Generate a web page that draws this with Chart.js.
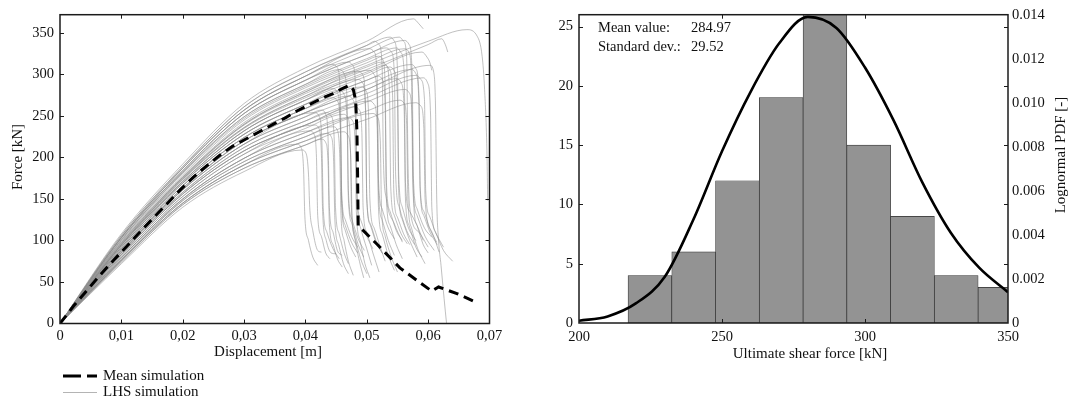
<!DOCTYPE html>
<html>
<head>
<meta charset="utf-8">
<title>LHS simulation results</title>
<script src="https://cdn.jsdelivr.net/npm/chart.js@4.4.1/dist/chart.umd.min.js"></script>
<style>
  html, body { margin: 0; padding: 0; background: #fff; }
  #wrap { position: relative; width: 1069px; height: 401px; overflow: hidden; }
  .panel { position: absolute; top: 0; }
  #force-panel { left: 0; }
  #shear-panel { left: 530px; }
</style>
</head>
<body>
<div id="wrap">
  <div class="panel" id="force-panel"><canvas id="force-chart" width="530" height="401"></canvas></div>
  <div class="panel" id="shear-panel"><canvas id="shear-chart" width="539" height="401"></canvas></div>
</div>
<script>
// force-displacement curves, [displacement m, force kN]
const dispTickLabels = ['0', '0,01', '0,02', '0,03', '0,04', '0,05', '0,06', '0,07'];

const meanSimulation = [
  [0, 0], [0.0022, 21], [0.0044, 40], [0.0065, 58], [0.0087, 76], [0.0109, 93], [0.013, 110],
  [0.0152, 127], [0.0174, 144], [0.0196, 161], [0.0217, 176], [0.0239, 190], [0.0261, 203],
  [0.028, 213], [0.03, 221], [0.0325, 231], [0.035, 241], [0.0368, 248], [0.0386, 256],
  [0.0402, 262], [0.0418, 268], [0.0432, 273], [0.0445, 277], [0.046, 283], [0.0472, 287],
  [0.0478, 282], [0.0482, 268], [0.0484, 230], [0.0485, 180], [0.0486, 118], [0.0516, 96],
  [0.0554, 67], [0.0587, 49], [0.0606, 39], [0.0617, 44], [0.0647, 36], [0.068, 25]
];

const lhsSimulations = [
  [[0,0],[0.01,108],[0.02,192],[0.03,265],[0.04,308],[0.05,340],[0.0576,367],[0.0585,361],[0.0592,355]],
  [[0,0],[0.01,98],[0.02,177],[0.03,242],[0.04,281],[0.05,311],[0.06,340],[0.0663,354],[0.068,346],[0.0688,322],[0.0692,282],[0.0696,200],[0.0697,148]],
  [[0,0],[0.01,96],[0.02,175],[0.03,239],[0.04,277],[0.05,306],[0.06,336],[0.0622,343],[0.0628,336],[0.0632,327]],
  [[0,0],[0.01,95],[0.02,173],[0.03,235],[0.04,272],[0.05,301],[0.059,327],[0.0598,321],[0.0603,314],[0.0606,305]],
  [[0,0],[0.01,76],[0.02,145],[0.03,191],[0.04,220],[0.05,246],[0.058,266],[0.0588,262],[0.0593,235],[0.0595,150],[0.0605,112],[0.0618,86]],
  [[0,0],[0.01,88],[0.02,163],[0.03,220],[0.04,254],[0.05,282],[0.0603,311],[0.0609,303],[0.0612,262],[0.0614,150],[0.0617,100],[0.0621,70],[0.0626,30],[0.063,0]],
  [[0,0],[0.01,104],[0.02,187],[0.03,257],[0.04,298],[0.05,330],[0.0553,345],[0.056,340],[0.0565,320],[0.0567,200],[0.057,140],[0.0585,110],[0.06,92]],
  [[0,0],[0.01,106],[0.02,189],[0.03,261],[0.04,303],[0.05,335],[0.0513,340],[0.052,336],[0.0525,310],[0.0527,200],[0.0532,150],[0.0545,120],[0.0558,98]],
  [[0,0],[0.01,103],[0.02,184],[0.03,253],[0.04,293],[0.05,324],[0.0532,332],[0.054,327],[0.0545,300],[0.0547,180],[0.0553,140],[0.0565,112],[0.0578,95]],
  [[0,0],[0.01,101],[0.02,182],[0.03,249],[0.04,288],[0.05,319],[0.0549,332],[0.0556,326],[0.0561,300],[0.0563,170],[0.057,135],[0.0582,118],[0.0592,100]],
  [[0,0],[0.01,86],[0.02,161],[0.03,216],[0.04,249],[0.05,277],[0.0581,299],[0.0588,294],[0.0594,270],[0.0596,160],[0.0602,130],[0.0612,110],[0.0625,92]],
  [[0,0],[0.01,85],[0.02,158],[0.03,212],[0.04,244],[0.05,272],[0.0592,296],[0.0599,290],[0.0604,250],[0.0606,140],[0.0612,110],[0.0625,88],[0.064,75]],
  [[0,0],[0.01,99],[0.02,179],[0.03,245],[0.04,284],[0.05,314],[0.0562,331],[0.0569,326],[0.0573,290],[0.0575,170],[0.0582,130],[0.0595,105],[0.061,88]],
  [[0,0],[0.01,94],[0.02,171],[0.03,232],[0.04,269],[0.05,298],[0.0538,309],[0.0545,304],[0.055,270],[0.0552,160],[0.0558,125],[0.057,100],[0.0582,80]],
  [[0,0],[0.01,92],[0.02,169],[0.03,228],[0.04,264],[0.05,293],[0.0519,298],[0.0526,293],[0.053,260],[0.0532,150],[0.0538,118],[0.0548,95],[0.0558,78]],
  [[0,0],[0.01,95],[0.02,174],[0.03,236],[0.04,274],[0.0505,305],[0.0512,300],[0.0517,270],[0.0519,160],[0.0525,125],[0.0535,100],[0.0545,82]],
  [[0,0],[0.01,90],[0.02,166],[0.03,224],[0.04,259],[0.0492,285],[0.0499,280],[0.0503,250],[0.0505,150],[0.0512,115],[0.0522,92],[0.053,75]],
  [[0,0],[0.01,97],[0.02,176],[0.03,240],[0.04,279],[0.0486,304],[0.0493,300],[0.0498,260],[0.05,150],[0.0506,120],[0.0515,100],[0.0525,85]],
  [[0,0],[0.01,83],[0.02,156],[0.03,208],[0.04,239],[0.0481,261],[0.0488,257],[0.0492,230],[0.0494,140],[0.05,110],[0.051,85],[0.052,62]],
  [[0,0],[0.01,88],[0.02,163],[0.03,220],[0.04,254],[0.047,274],[0.0477,270],[0.0482,240],[0.0484,150],[0.049,115],[0.05,90],[0.0508,70]],
  [[0,0],[0.01,81],[0.02,153],[0.03,204],[0.04,235],[0.0462,252],[0.0469,248],[0.0473,220],[0.0475,140],[0.048,105],[0.0488,75],[0.0495,55]],
  [[0,0],[0.01,92],[0.02,169],[0.03,228],[0.04,264],[0.0456,281],[0.0463,276],[0.0468,240],[0.047,150],[0.0476,120],[0.0486,95],[0.0495,80]],
  [[0,0],[0.01,77],[0.02,148],[0.03,195],[0.04,225],[0.0445,237],[0.0452,233],[0.0456,200],[0.0458,130],[0.0463,100],[0.047,75],[0.0478,58]],
  [[0,0],[0.01,85],[0.02,158],[0.03,212],[0.04,244],[0.0435,254],[0.0442,250],[0.0447,220],[0.0449,140],[0.0455,108],[0.0463,85],[0.047,72]],
  [[0,0],[0.01,74],[0.02,143],[0.03,187],[0.04,215],[0.0426,222],[0.0433,218],[0.0437,190],[0.0439,120],[0.0445,95],[0.0452,78],[0.046,68]],
  [[0,0],[0.01,79],[0.02,150],[0.03,199],[0.0407,232],[0.0414,228],[0.0418,200],[0.042,130],[0.0426,105],[0.0433,85],[0.044,78]],
  [[0,0],[0.01,72],[0.02,140],[0.03,183],[0.0394,209],[0.0401,205],[0.0405,180],[0.0407,140],[0.0412,112],[0.042,88],[0.0426,86]],
  [[0,0],[0.01,76],[0.02,145],[0.03,191],[0.0386,216],[0.0393,212],[0.0397,185],[0.0399,130],[0.0405,100],[0.0412,80],[0.042,70]],
  [[0,0],[0.01,86],[0.02,161],[0.03,216],[0.0415,254],[0.0422,250],[0.0427,215],[0.0429,140],[0.0435,110],[0.0445,90],[0.0455,78]],
  [[0,0],[0.01,94],[0.02,171],[0.03,232],[0.04,269],[0.0445,283],[0.0452,278],[0.0457,240],[0.0459,150],[0.0465,118],[0.0475,98],[0.0485,85]],
  [[0,0],[0.01,103],[0.02,184],[0.03,253],[0.04,293],[0.047,315],[0.0477,311],[0.0482,280],[0.0484,160],[0.049,125],[0.05,105],[0.051,90]],
  [[0,0],[0.01,79],[0.02,150],[0.03,199],[0.04,230],[0.05,256],[0.0554,269],[0.0561,265],[0.0565,240],[0.0567,150],[0.0573,115],[0.0583,90],[0.0595,72]],
  [[0,0],[0.01,83],[0.02,156],[0.03,208],[0.04,239],[0.05,267],[0.0562,282],[0.0569,278],[0.0574,245],[0.0576,150],[0.0582,118],[0.0592,95],[0.06,85]],
  [[0,0],[0.01,90],[0.02,166],[0.03,224],[0.04,259],[0.05,287],[0.0573,306],[0.058,301],[0.0585,265],[0.0587,160],[0.0593,130],[0.0603,110],[0.0615,95]],
  [[0,0],[0.01,104],[0.02,187],[0.03,257],[0.04,298],[0.0445,312],[0.0452,308],[0.0457,270],[0.0459,160],[0.0465,125],[0.0475,105],[0.0485,92]],
  [[0,0],[0.01,95],[0.02,174],[0.03,236],[0.04,274],[0.05,303],[0.053,311],[0.0537,306],[0.0542,275],[0.0544,160],[0.055,128],[0.056,108],[0.057,95]],
  [[0,0],[0.01,100],[0.02,181],[0.03,247],[0.04,286],[0.05,317],[0.0519,322],[0.0526,318],[0.053,285],[0.0532,170],[0.0538,135],[0.0548,112],[0.0558,100]],
  [[0,0],[0.01,77],[0.02,148],[0.03,195],[0.04,225],[0.051,253],[0.0517,249],[0.0522,220],[0.0524,140],[0.053,105],[0.054,80],[0.055,62]],
  [[0,0],[0.01,74],[0.02,143],[0.03,187],[0.04,215],[0.0462,231],[0.0469,227],[0.0474,200],[0.0476,130],[0.0482,100],[0.049,78],[0.05,60]],
  [[0,0],[0.01,86],[0.02,161],[0.03,216],[0.04,249],[0.0426,257],[0.0433,252],[0.0437,220],[0.0439,140],[0.0445,110],[0.0452,88],[0.046,82]],
  [[0,0],[0.01,106],[0.02,189],[0.03,261],[0.04,303],[0.05,335],[0.0538,345],[0.0545,340],[0.055,305],[0.0552,180],[0.0558,140],[0.0568,115],[0.058,100]],
  [[0,0],[0.01,90],[0.02,166],[0.03,224],[0.04,259],[0.0445,272],[0.0452,268],[0.0457,235],[0.0459,145],[0.0465,112],[0.0474,92],[0.0482,80]],
  [[0,0],[0.01,81],[0.02,153],[0.03,204],[0.0415,239],[0.0422,235],[0.0426,205],[0.0428,135],[0.0434,100],[0.0442,85],[0.045,84]],
  [[0,0],[0.01,97],[0.02,176],[0.03,240],[0.04,279],[0.05,309],[0.0525,315],[0.0532,311],[0.0537,280],[0.0539,165],[0.0545,130],[0.0556,108],[0.0566,96]],
  [[0,0],[0.01,103],[0.02,184],[0.03,253],[0.04,293],[0.05,324],[0.0562,341],[0.0569,336],[0.0574,300],[0.0576,175],[0.0582,138],[0.0594,115],[0.0606,104]],
  [[0,0],[0.01,83],[0.02,156],[0.03,208],[0.04,239],[0.0505,268],[0.0512,264],[0.0517,235],[0.0519,140],[0.0525,108],[0.0535,82],[0.0545,64]],
  [[0,0],[0.01,94],[0.02,171],[0.03,232],[0.04,269],[0.0486,294],[0.0493,290],[0.0498,255],[0.05,150],[0.0506,118],[0.0516,96],[0.0526,84]],
  [[0,0],[0.01,79],[0.02,150],[0.03,199],[0.04,230],[0.047,248],[0.0477,244],[0.0481,215],[0.0483,135],[0.0489,100],[0.0497,72],[0.0505,55]],
  [[0,0],[0.01,88],[0.02,163],[0.03,220],[0.04,254],[0.05,282],[0.0549,295],[0.0556,290],[0.0561,255],[0.0563,150],[0.0569,118],[0.058,92],[0.059,80]],
  [[0,0],[0.01,101],[0.02,182],[0.03,249],[0.04,288],[0.0456,306],[0.0463,301],[0.0468,265],[0.047,160],[0.0476,125],[0.0486,102],[0.0496,88]],
  [[0,0],[0.01,76],[0.02,145],[0.03,191],[0.04,220],[0.0435,229],[0.0442,225],[0.0446,195],[0.0448,125],[0.0454,95],[0.0462,72],[0.047,60]],
  [[0,0],[0.01,92],[0.02,169],[0.03,228],[0.04,264],[0.05,293],[0.0573,312],[0.058,307],[0.0585,275],[0.0587,165],[0.0593,135],[0.0604,112],[0.0614,98]],
  [[0,0],[0.01,104],[0.02,187],[0.03,257],[0.04,298],[0.0505,331],[0.0512,327],[0.0517,295],[0.0519,175],[0.0525,138],[0.0535,115],[0.0545,102]]
];

// ultimate shear force histogram (bin centres, kN) and counts
const shearBinCenters = [224.8, 240.1, 255.4, 270.7, 286.0, 301.3, 316.6, 331.9, 347.2];
const shearCounts = [4, 6, 12, 19, 26, 15, 9, 4, 3];

// fitted lognormal density
const pdfForce = [200, 210, 220, 230, 240, 250, 260, 270, 280, 290, 300, 310, 320, 330, 340, 350];
const pdfValues = [0.0001, 0.0003, 0.0009, 0.0021, 0.0047, 0.0078, 0.0105, 0.0127, 0.0139, 0.0134, 0.0116, 0.0092, 0.0064, 0.0041, 0.0025, 0.0014];

const meanValue = '284.97';
const stdDev = '29.52';

const SERIF = "'Liberation Serif', 'Times New Roman', serif";
Chart.defaults.font.family = SERIF;
Chart.defaults.font.size = 14.5;
Chart.defaults.color = '#111';

const toXY = pts => pts.map(p => ({ x: p[0], y: p[1] }));

// box around the plot area with inward tick marks on all four sides
const boxAxes = {
  id: 'boxAxes',
  afterDatasetsDraw(chart) {
    const { ctx, chartArea: a, scales } = chart;
    const len = 4;
    ctx.save();
    ctx.strokeStyle = '#1b1b1b';
    ctx.lineWidth = 1;
    ctx.beginPath();
    scales.x.ticks.forEach(t => {
      const px = Math.round(scales.x.getPixelForValue(t.value)) + 0.5;
      if (px < a.left + 2 || px > a.right - 2) return;
      ctx.moveTo(px, a.bottom); ctx.lineTo(px, a.bottom - len);
      ctx.moveTo(px, a.top); ctx.lineTo(px, a.top + len);
    });
    scales.y.ticks.forEach(t => {
      const py = Math.round(scales.y.getPixelForValue(t.value)) + 0.5;
      if (py < a.top + 2 || py > a.bottom - 2) return;
      ctx.moveTo(a.left, py); ctx.lineTo(a.left + len, py);
      ctx.moveTo(a.right, py); ctx.lineTo(a.right - len, py);
    });
    ctx.stroke();
    ctx.lineWidth = 1.5;
    ctx.strokeRect(a.left, a.top, a.right - a.left, a.bottom - a.top);
    ctx.restore();
  }
};

function rotatedText(ctx, text, x, y) {
  ctx.save();
  ctx.translate(x, y);
  ctx.rotate(-Math.PI / 2);
  ctx.fillText(text, 0, 0);
  ctx.restore();
}

// axis titles and the two-line legend under the force plot
const forceNotes = {
  id: 'forceNotes',
  afterDraw(chart) {
    const { ctx } = chart;
    const [mean, lhs] = chart.data.datasets;
    ctx.save();
    ctx.fillStyle = '#111';
    ctx.font = '15px ' + SERIF;
    ctx.textAlign = 'center';
    ctx.textBaseline = 'middle';
    ctx.fillText('Displacement [m]', 268, 352);
    rotatedText(ctx, 'Force [kN]', 18, 157);

    ctx.textAlign = 'left';
    ctx.lineCap = 'butt';
    ctx.strokeStyle = mean.borderColor;
    ctx.lineWidth = mean.borderWidth;
    ctx.setLineDash([18, 6]);
    ctx.beginPath(); ctx.moveTo(63, 376); ctx.lineTo(97, 376); ctx.stroke();
    ctx.setLineDash([]);
    ctx.strokeStyle = '#b4b4b4';
    ctx.lineWidth = 1;
    ctx.beginPath(); ctx.moveTo(63, 392.5); ctx.lineTo(97, 392.5); ctx.stroke();
    ctx.fillText(mean.label, 103, 376);
    ctx.fillText(lhs.label, 103, 392);
    ctx.restore();
  }
};

const lhsDatasets = lhsSimulations.map(run => ({
  label: 'LHS simulation',
  data: toXY(run),
  showLine: true,
  borderColor: 'rgba(140, 140, 140, 0.55)',
  borderWidth: 1,
  pointRadius: 0,
  cubicInterpolationMode: 'monotone',
  order: 1
}));

new Chart(document.getElementById('force-chart'), {
  type: 'scatter',
  data: {
    datasets: [{
      label: 'Mean simulation',
      data: toXY(meanSimulation),
      showLine: true,
      borderColor: '#000',
      borderWidth: 3,
      borderDash: [10, 6],
      pointRadius: 0,
      tension: 0,
      order: 0
    }, ...lhsDatasets]
  },
  options: {
    responsive: false,
    animation: false,
    events: [],
    layout: { padding: { left: 0, top: 8, right: 40.5, bottom: 0 } },
    plugins: { legend: { display: false }, tooltip: { enabled: false } },
    scales: {
      x: {
        type: 'linear',
        min: 0,
        max: 0.07,
        grid: { display: false, drawTicks: false },
        border: { display: false },
        ticks: {
          stepSize: 0.01,
          padding: 4,
          maxRotation: 0,
          autoSkip: false,
          callback: (v, i) => dispTickLabels[i]
        },
        afterFit: s => { s.height = 77.5; }
      },
      y: {
        min: 0,
        max: 372,
        grid: { display: false, drawTicks: false },
        border: { display: false },
        ticks: { stepSize: 50, padding: 6, includeBounds: false },
        afterFit: s => { s.width = 60; }
      }
    }
  },
  plugins: [boxAxes, forceNotes]
});

// titles and the mean / deviation note of the histogram
const shearNotes = {
  id: 'shearNotes',
  afterDraw(chart) {
    const { ctx } = chart;
    ctx.save();
    ctx.fillStyle = '#111';
    ctx.font = '15px ' + SERIF;
    ctx.textAlign = 'center';
    ctx.textBaseline = 'middle';
    ctx.fillText('Ultimate shear force [kN]', 280, 354);
    rotatedText(ctx, 'Lognormal PDF [-]', 531, 155);

    ctx.font = '14.5px ' + SERIF;
    ctx.textAlign = 'left';
    ctx.fillText('Mean value:', 68, 28);
    ctx.fillText(meanValue, 161, 28);
    ctx.fillText('Standard dev.:', 68, 47);
    ctx.fillText(stdDev, 161, 47);
    ctx.restore();
  }
};

new Chart(document.getElementById('shear-chart'), {
  type: 'bar',
  data: {
    datasets: [{
      type: 'line',
      label: 'Lognormal PDF',
      data: pdfForce.map((x, i) => ({ x, y: pdfValues[i] })),
      yAxisID: 'y1',
      borderColor: '#000',
      borderWidth: 2.6,
      pointRadius: 0,
      cubicInterpolationMode: 'monotone',
      order: 0
    }, {
      label: 'Ultimate shear force',
      data: shearBinCenters.map((x, i) => ({ x, y: shearCounts[i] })),
      yAxisID: 'y',
      backgroundColor: '#939393',
      borderColor: '#2e2e2e',
      borderWidth: 0.7,
      borderSkipped: false,
      barPercentage: 1,
      categoryPercentage: 1,
      order: 1
    }]
  },
  options: {
    responsive: false,
    animation: false,
    events: [],
    layout: { padding: { left: 0, top: 8, right: 0, bottom: 0 } },
    plugins: { legend: { display: false }, tooltip: { enabled: false } },
    scales: {
      x: {
        type: 'linear',
        min: 200,
        max: 350,
        offset: false,
        grid: { display: false, drawTicks: false, offset: false },
        border: { display: false },
        ticks: { stepSize: 50, padding: 5, maxRotation: 0, autoSkip: false },
        afterFit: s => { s.height = 78; }
      },
      y: {
        position: 'left',
        min: 0,
        max: 26,
        grid: { display: false, drawTicks: false },
        border: { display: false },
        ticks: { stepSize: 5, padding: 6, includeBounds: false },
        afterFit: s => { s.width = 49; }
      },
      y1: {
        position: 'right',
        min: 0,
        max: 0.014,
        grid: { display: false, drawTicks: false },
        border: { display: false },
        ticks: {
          stepSize: 0.002,
          padding: 4,
          callback: v => (v === 0 ? '0' : v.toFixed(3))
        },
        afterFit: s => { s.width = 61; }
      }
    }
  },
  plugins: [boxAxes, shearNotes]
});
</script>
</body>
</html>
